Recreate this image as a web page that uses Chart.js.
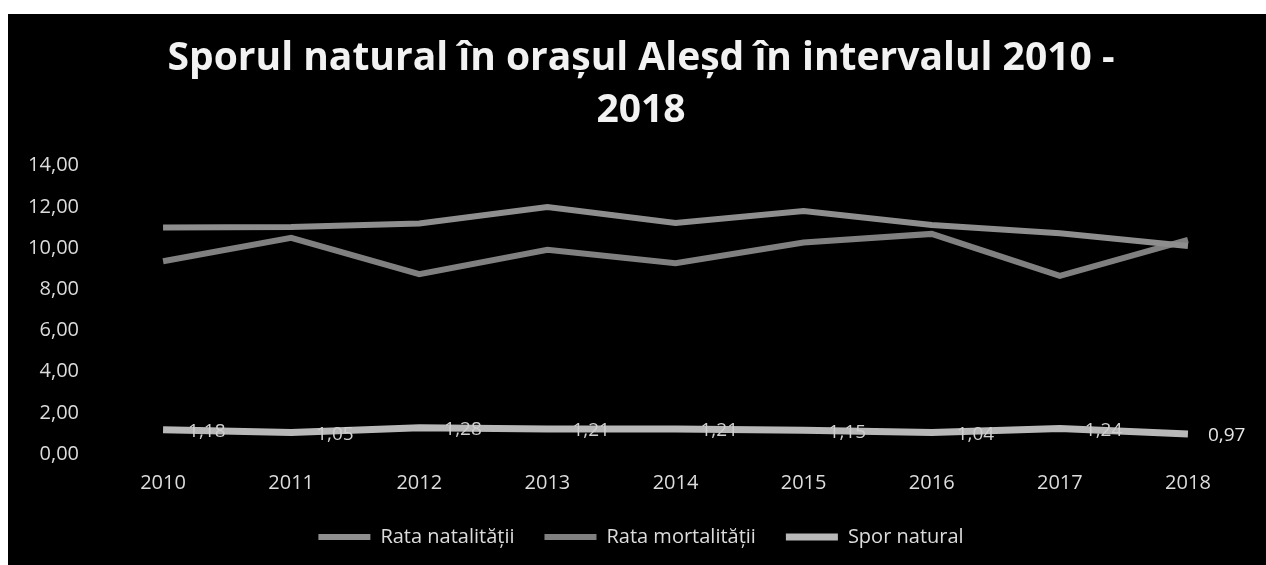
<!DOCTYPE html>
<html>
<head>
<meta charset="utf-8">
<script src="https://cdn.jsdelivr.net/npm/chart.js@4"></script>
<style>
  html, body { margin: 0; padding: 0; background: #fff; }
  #box { position: absolute; left: 8px; top: 14px; width: 1258px; height: 551px; background: #000; }
</style>
</head>
<body>
<div id="box"><canvas id="chart"></canvas></div>
<script>
// ani
const years = ['2010', '2011', '2012', '2013', '2014', '2015', '2016', '2017', '2018'];
// valori
const rataNatalitatii = [11.00, 11.02, 11.20, 12.00, 11.22, 11.80, 11.12, 10.72, 10.10];
const rataMortalitatii = [9.36, 10.50, 8.73, 9.92, 9.27, 10.27, 10.69, 8.65, 10.40];
const sporNatural = [1.18, 1.05, 1.28, 1.21, 1.21, 1.15, 1.04, 1.24, 0.97];

const fmt = v => v.toFixed(2).replace('.', ',');
const FONT = '"Open Sans", sans-serif';

// etichete pentru seria "Spor natural"
const valueLabels = {
    id: 'valueLabels',
    afterDatasetsDraw(chart) {
        const ctx = chart.ctx;
        const meta = chart.getDatasetMeta(2);
        ctx.save();
        ctx.font = '19px ' + FONT;
        ctx.textBaseline = 'middle';
        ctx.textAlign = 'left';
        meta.data.forEach((pt, i) => {
            const last = i === meta.data.length - 1;
            ctx.fillStyle = last ? '#e6e6e6' : '#cfcfcf';
            ctx.fillText(fmt(sporNatural[i]), pt.x + (last ? 20 : 25), pt.y + 2);
        });
        ctx.restore();
    }
};

new Chart(document.getElementById('chart'), {
    type: 'line',
    data: {
        labels: years,
        datasets: [
            { label: 'Rata natalității', data: rataNatalitatii, borderColor: '#8e8e8e', backgroundColor: '#8e8e8e', borderWidth: 6, pointRadius: 0, tension: 0 },
            { label: 'Rata mortalității', data: rataMortalitatii, borderColor: '#808080', backgroundColor: '#808080', borderWidth: 6, pointRadius: 0, tension: 0 },
            { label: 'Spor natural', data: sporNatural, borderColor: '#b8b8b8', backgroundColor: '#b8b8b8', borderWidth: 7, pointRadius: 0, tension: 0 }
        ]
    },
    options: {
        responsive: true,
        maintainAspectRatio: false,
        animation: false,
        layout: { padding: { left: 22, right: 14, top: 14, bottom: 8 } },
        plugins: {
            title: {
                display: true,
                text: ['Sporul natural în orașul Aleșd în intervalul 2010 -', '2018'],
                color: '#f2f2f2',
                font: { family: FONT, size: 39, weight: 'bold', lineHeight: 1.33 },
                padding: { top: 5, bottom: 29 }
            },
            legend: {
                position: 'bottom',
                labels: {
                    color: '#dcdcdc',
                    font: { family: FONT, size: 20 },
                    usePointStyle: true,
                    pointStyle: 'line',
                    pointStyleWidth: 52,
                    padding: 30
                }
            },
            tooltip: { enabled: false }
        },
        scales: {
            x: {
                offset: true,
                grid: { display: false },
                border: { display: false },
                ticks: { color: '#dcdcdc', font: { family: FONT, size: 20 }, padding: 9 },
                afterFit: s => { s.height -= 7; }
            },
            y: {
                min: 0,
                max: 14,
                grid: { display: false },
                border: { display: false },
                ticks: { stepSize: 2, color: '#dcdcdc', font: { family: FONT, size: 20 }, padding: 12, callback: v => fmt(v) },
                afterFit: s => { s.width = 69; }
            }
        }
    },
    plugins: [valueLabels]
});
</script>
</body>
</html>
